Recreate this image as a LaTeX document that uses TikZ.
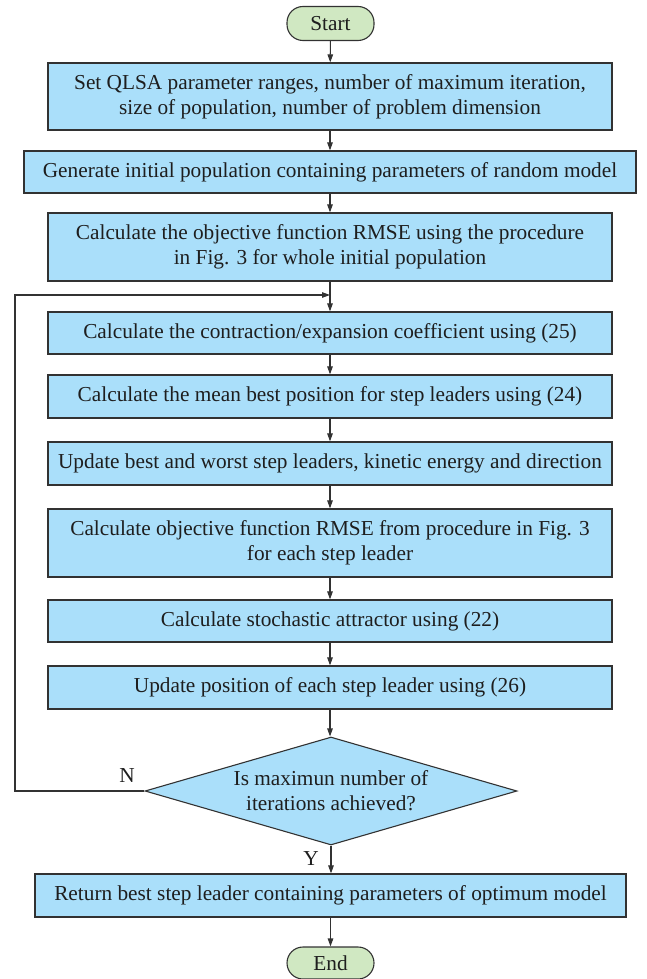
\documentclass[tikz,border=0pt]{standalone}
\usepackage{fontspec}
\setmainfont{Liberation Serif}
\usetikzlibrary{shapes.geometric,arrows.meta}
\definecolor{boxfill}{RGB}{170,223,250}
\definecolor{termfill}{RGB}{208,232,194}
\definecolor{linec}{RGB}{50,50,50}
\definecolor{txtc}{RGB}{30,30,30}
\begin{document}
\begin{tikzpicture}[x=1pt,y=-1pt,
  every node/.style={text=txtc,font=\fontsize{21.3}{25}\selectfont},
  procbox/.style={draw=linec,fill=boxfill,line width=1.2pt,rectangle,inner sep=0pt,align=center,minimum height=42pt},
  narrow/.style={procbox,minimum width=564pt},
  wide/.style={procbox,minimum width=612pt},
  term/.style={draw=linec,fill=termfill,line width=1.1pt,rectangle,rounded corners=16pt,minimum width=87pt,minimum height=34pt,inner sep=0pt},
  decis/.style={draw=linec,fill=boxfill,line width=1.1pt,diamond,minimum width=372pt,minimum height=108pt,inner sep=0pt},
  conn/.style={draw=linec,line width=1.1pt,-{Triangle[length=8pt,width=5.5pt]}},
  lbl/.style={text=txtc}
]
\useasboundingbox (0,0) rectangle (646,979);
\node[term] (start) at (330.5,23.5) {Start};
\node[narrow,minimum height=67pt] (b1) at (330,96.5) {Set QLSA parameter ranges, number of maximum iteration,\\size of population, number of problem dimension};
\node[wide] (b2) at (330,172) {Generate initial population containing parameters of random model};
\node[narrow,minimum height=68pt] (b3) at (330,247) {Calculate the objective function RMSE using the procedure\\in Fig. 3 for whole initial population};
\node[narrow] (b4) at (330,333) {Calculate the contraction/expansion coefficient using (25)};
\node[narrow,minimum height=43pt] (b5) at (330,396.5) {Calculate the mean best position for step leaders using (24)};
\node[narrow,minimum height=43pt] (b6) at (330,463.5) {Update best and worst step leaders, kinetic energy and direction};
\node[narrow,minimum height=68pt] (b7) at (330,543) {Calculate objective function RMSE from procedure in Fig. 3\\for each step leader};
\node[narrow] (b8) at (330,621) {Calculate stochastic attractor using (22)};
\node[narrow,minimum height=43pt] (b9) at (330,687.5) {Update position of each step leader using (26)};
\node[decis] (d) at (331,791) {};
\node[align=center] (dt) at (331,791) {Is maximun number of\\iterations achieved?};
\node[procbox,minimum width=591pt,minimum height=43pt] (last) at (330.5,895.5) {Return best step leader containing parameters of optimum model};
\node[term,minimum height=32pt] (end) at (330.5,963) {End};
\coordinate (loopx) at (15,791);
\coordinate (loopy) at (15,295);
\coordinate (join) at (330,295);
\draw[conn] (start) -- (b1);
\draw[conn] (b1) -- (b2);
\draw[conn] (b2) -- (b3);
\draw[conn] (b3) -- (b4);
\draw[conn] (b4) -- (b5);
\draw[conn] (b5) -- (b6);
\draw[conn] (b6) -- (b7);
\draw[conn] (b7) -- (b8);
\draw[conn] (b8) -- (b9);
\draw[conn] (b9.south) -- (b9.south |- d.north);
\draw[conn] (d.south) -- (d.south |- last.north);
\draw[conn] (last) -- (end);
\draw[conn] (d.west) -- (loopx) -- (loopy) -- (join);
\node[lbl] (nl) at (127,776) {N};
\node[lbl] (yl) at (311,859) {Y};
\end{tikzpicture}
\end{document}
